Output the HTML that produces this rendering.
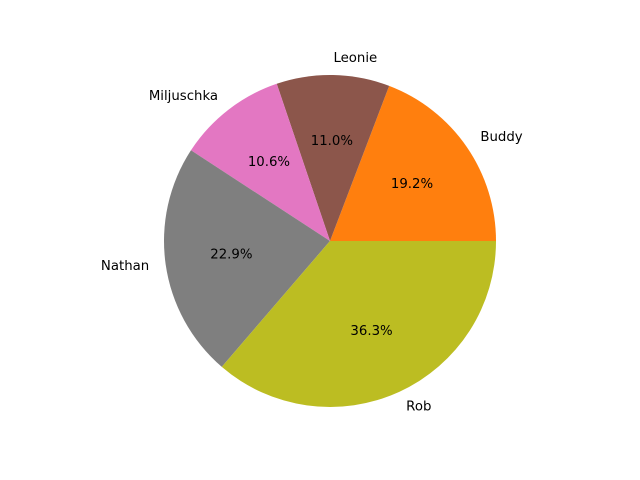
<!DOCTYPE html>
<html><head><meta charset="utf-8"><style>body{margin:0;background:#fff}svg{display:block}</style></head>
<body>
<svg id="chart" width="640" height="480" xmlns="http://www.w3.org/2000/svg" font-family="'DejaVu Sans','Liberation Sans',sans-serif" font-size="13.3px">
<rect width="640" height="480" fill="#fff"/>
<g id="slices"></g>
</svg>
<script>
const categories = ["Buddy", "Leonie", "Miljuschka", "Nathan", "Rob"];
const values = [19.2, 11.0, 10.6, 22.9, 36.3];
const colors = ["#ff7f0e", "#8c564b", "#e377c2", "#7f7f7f", "#bcbd22"];
const cx = 330, cy = 241, r = 166;
const ns = "http://www.w3.org/2000/svg";
const g = document.getElementById("slices");
const total = values.reduce((a, b) => a + b, 0);
let start = 0;
function pt(a, rr) { return [cx + rr * Math.cos(a), cy - rr * Math.sin(a)]; }
values.forEach((v, i) => {
  const frac = v / total;
  const a0 = start * 2 * Math.PI, a1 = (start + frac) * 2 * Math.PI;
  const [x0, y0] = pt(a0, r), [x1, y1] = pt(a1, r);
  const large = frac > 0.5 ? 1 : 0;
  const p = document.createElementNS(ns, "path");
  p.setAttribute("d", `M${cx},${cy} L${x0},${y0} A${r},${r} 0 ${large} 0 ${x1},${y1} Z`);
  p.setAttribute("fill", colors[i]);
  
  
  g.appendChild(p);
  const am = (a0 + a1) / 2;
  const [lx, ly] = pt(am, r * 1.1);
  const t = document.createElementNS(ns, "text");
  t.setAttribute("x", lx); t.setAttribute("y", ly);
  t.setAttribute("dominant-baseline", "central");
  t.setAttribute("text-anchor", Math.cos(am) >= 0 ? "start" : "end");
  t.textContent = categories[i];
  
  
  g.appendChild(t);
  const [px, py] = pt(am, r * 0.6);
  const q = document.createElementNS(ns, "text");
  q.setAttribute("x", px); q.setAttribute("y", py);
  q.setAttribute("dominant-baseline", "central");
  q.setAttribute("text-anchor", "middle");
  q.textContent = (frac * 100).toFixed(1) + "%";
  
  
  g.appendChild(q);
  start += frac;
});
</script>
</body></html>
